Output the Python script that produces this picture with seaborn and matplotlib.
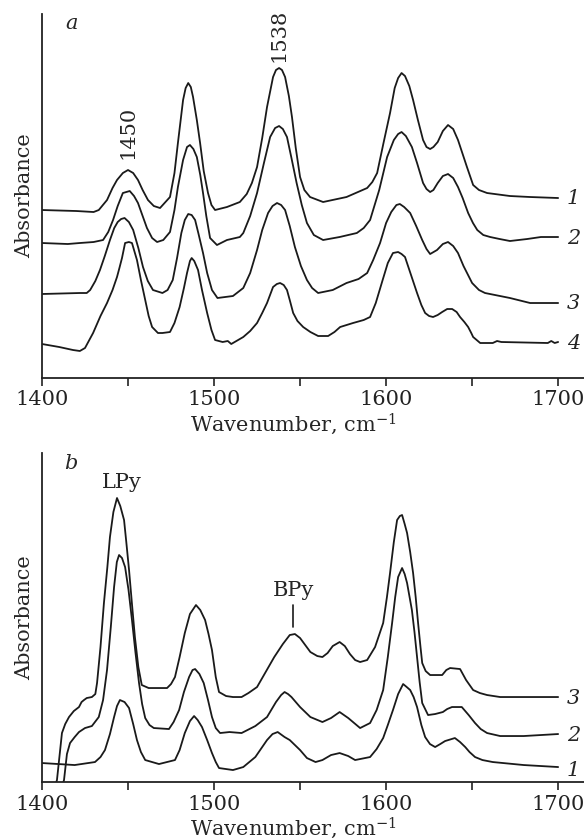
import matplotlib
matplotlib.use("Agg")
import matplotlib.pyplot as plt
from matplotlib.ticker import MultipleLocator
import numpy as np
import pandas as pd
import seaborn as sns

# ---- Panel a: spectra 1-4 (wavenumber, cm-1 / absorbance, a.u., stacked) ----
a1_w = [1400, 1420, 1430, 1433, 1437.8, 1441, 1443.6, 1447, 1450, 1453, 1455.8, 1458.5, 1461.6, 1465,
        1468.6, 1474.4, 1477, 1479, 1482, 1483.5, 1485, 1486.5, 1487.8, 1490, 1491.9, 1494, 1496.5,
        1498.5, 1500.6, 1507.5, 1515, 1519, 1522, 1525, 1528, 1530.8, 1534.3, 1536, 1537.8, 1539.5,
        1541.3, 1543.5, 1545.3, 1547.5, 1550, 1552.5, 1555.8, 1563.4, 1577, 1589, 1592, 1594.8, 1598.5,
        1602.3, 1605, 1607, 1609, 1611, 1613.5, 1615.7, 1618.5, 1621.5, 1623.5, 1625.6, 1627.5, 1630,
        1633, 1636, 1639, 1641.8, 1644.5, 1647, 1650.6, 1654, 1658.7, 1672, 1683.7, 1700]
a1_A = [1.68, 1.67, 1.66, 1.68, 1.78, 1.90, 1.98, 2.05, 2.08, 2.05, 1.98, 1.88, 1.78, 1.72,
        1.70, 1.81, 2.05, 2.35, 2.78, 2.90, 2.95, 2.91, 2.81, 2.58, 2.35, 2.07, 1.85,
        1.73, 1.68, 1.71, 1.76, 1.84, 1.95, 2.11, 2.40, 2.71, 3.01, 3.08, 3.10, 3.08,
        3.01, 2.82, 2.61, 2.30, 2.01, 1.88, 1.81, 1.76, 1.81, 1.90, 1.96, 2.05, 2.35,
        2.65, 2.90, 3.00, 3.05, 3.02, 2.92, 2.78, 2.58, 2.38, 2.31, 2.29, 2.31, 2.36,
        2.47, 2.53, 2.49, 2.38, 2.24, 2.11, 1.93, 1.88, 1.85, 1.82, 1.81, 1.80]

a2_w = [1400, 1415, 1422, 1430, 1435.5, 1438.5, 1441.3, 1444, 1447, 1451, 1453.5, 1455.8, 1458.5, 1461,
        1464, 1466.9, 1470.5, 1474.4, 1477, 1479, 1482, 1484.3, 1486, 1488, 1490, 1492, 1493.6, 1495.5,
        1497.7, 1501.7, 1507.5, 1515, 1517, 1521, 1525, 1529, 1532.6, 1535.5, 1537.8, 1540, 1542.4,
        1545, 1548, 1551, 1554, 1558, 1563.4, 1573, 1583, 1587, 1590.7, 1596, 1600.6, 1604.5, 1607,
        1609, 1611.5, 1615, 1618, 1621.5, 1623.5, 1625.6, 1627.5, 1630, 1633, 1636, 1639, 1641.8,
        1644.5, 1647.7, 1650.5, 1653, 1656.5, 1660.5, 1666, 1672, 1682, 1690, 1700]
a2_A = [1.35, 1.34, 1.35, 1.36, 1.38, 1.46, 1.58, 1.72, 1.85, 1.87, 1.82, 1.75, 1.62, 1.50,
        1.40, 1.36, 1.38, 1.46, 1.68, 1.91, 2.18, 2.31, 2.33, 2.29, 2.21, 2.03, 1.85, 1.62,
        1.40, 1.33, 1.38, 1.41, 1.45, 1.62, 1.85, 2.15, 2.41, 2.50, 2.52, 2.49, 2.41,
        2.20, 1.95, 1.73, 1.55, 1.43, 1.38, 1.41, 1.45, 1.50, 1.58, 1.88, 2.21, 2.38, 2.44,
        2.46, 2.42, 2.31, 2.15, 1.95, 1.89, 1.86, 1.88, 1.95, 2.02, 2.04, 2.00, 1.91,
        1.80, 1.65, 1.55, 1.48, 1.43, 1.41, 1.39, 1.37, 1.39, 1.41, 1.41]

a3_w = [1400, 1422, 1426, 1428, 1431, 1433.7, 1436.5, 1439.5, 1442, 1444, 1446, 1448, 1450.5, 1453,
        1456, 1458.7, 1461.5, 1464.5, 1470, 1473, 1476, 1478.5, 1481, 1483, 1485, 1487, 1489, 1491,
        1493.6, 1496, 1498.8, 1502, 1511, 1517, 1521, 1525, 1528, 1531.4, 1534, 1536.6, 1539, 1541.3,
        1544, 1547, 1550.5, 1554, 1557, 1560.5, 1569, 1577, 1584, 1589, 1592.5, 1596.5, 1600, 1603,
        1606, 1608, 1610.5, 1614, 1617.5, 1621, 1623.5, 1625.6, 1629.6, 1633, 1636, 1639, 1641.8,
        1645, 1650, 1654, 1657.5, 1672, 1683.7, 1700]
a3_A = [0.84, 0.85, 0.85, 0.88, 0.97, 1.08, 1.22, 1.38, 1.50, 1.56, 1.59, 1.60, 1.56, 1.48,
        1.30, 1.11, 0.97, 0.88, 0.85, 0.88, 0.98, 1.20, 1.45, 1.58, 1.64, 1.63, 1.58, 1.44,
        1.25, 1.05, 0.88, 0.80, 0.82, 0.90, 1.05, 1.28, 1.48, 1.65, 1.72, 1.75, 1.73, 1.68,
        1.52, 1.31, 1.12, 0.98, 0.90, 0.85, 0.88, 0.95, 0.99, 1.05, 1.18, 1.35, 1.55, 1.66,
        1.73, 1.74, 1.71, 1.65, 1.52, 1.38, 1.29, 1.24, 1.28, 1.34, 1.36, 1.32, 1.25,
        1.12, 0.95, 0.88, 0.85, 0.80, 0.75, 0.75]

a4_w = [1400, 1410, 1418, 1422, 1425, 1429.7, 1434, 1437.8, 1441, 1443.6, 1445, 1446.5, 1448.3, 1450.5,
        1452.3, 1455.2, 1457.5, 1460, 1462, 1464, 1467.4, 1470, 1474.4, 1477, 1480, 1482.5, 1484.3,
        1486, 1487, 1488.5, 1490.7, 1493, 1496, 1498.5, 1500.6, 1505, 1508, 1510, 1512, 1517, 1521,
        1525, 1528, 1530.8, 1534.3, 1536.5, 1538.4, 1540.5, 1542.4, 1544, 1546, 1548.5, 1551.8, 1556,
        1560.5, 1566.3, 1570, 1573.3, 1580.8, 1587, 1590.7, 1594, 1598, 1601, 1604, 1607, 1609, 1611,
        1614.5, 1618, 1620.5, 1622.7, 1625, 1627.3, 1630, 1632.6, 1635.5, 1638.4, 1641, 1643, 1645.5,
        1647.7, 1649.5, 1650.6, 1654.7, 1662, 1664.5, 1667, 1694, 1696, 1698, 1700]
a4_A = [0.34, 0.31, 0.28, 0.27, 0.30, 0.45, 0.62, 0.75, 0.88, 1.01, 1.10, 1.20, 1.35, 1.36,
        1.35, 1.18, 0.98, 0.78, 0.62, 0.51, 0.45, 0.45, 0.46, 0.55, 0.71, 0.90, 1.05,
        1.17, 1.20, 1.17, 1.08, 0.88, 0.65, 0.48, 0.38, 0.36, 0.37, 0.34, 0.36, 0.41, 0.47,
        0.55, 0.65, 0.75, 0.91, 0.94, 0.95, 0.93, 0.88, 0.78, 0.65, 0.57, 0.51, 0.46,
        0.42, 0.42, 0.46, 0.51, 0.55, 0.58, 0.61, 0.75, 0.98, 1.15, 1.25, 1.26, 1.24, 1.21,
        1.03, 0.85, 0.73, 0.65, 0.62, 0.61, 0.63, 0.66, 0.69, 0.69, 0.66, 0.61, 0.56,
        0.51, 0.45, 0.41, 0.35, 0.35, 0.37, 0.36, 0.35, 0.37, 0.35, 0.36]

# ---- Panel b: spectra 1-3 ----
b3_w = [1406.5, 1408.7, 1411.6, 1413.5, 1415.7, 1418.5, 1421.5, 1423, 1424.4, 1426, 1429, 1431, 1432,
        1434, 1436, 1438, 1439.5, 1441.5, 1443.6, 1445.5, 1447.7, 1449, 1450.6, 1452.3, 1454, 1456,
        1458, 1462, 1472.7, 1475, 1477.3, 1480, 1483, 1486, 1489.5, 1492, 1494.8, 1496.8, 1498.8, 1501,
        1502.9, 1507, 1511, 1516, 1520, 1525, 1530, 1535, 1540, 1544, 1547, 1550, 1553, 1556, 1560,
        1563, 1566, 1569, 1573, 1576, 1579, 1582, 1584.9, 1589, 1593.6, 1598.3, 1600.5, 1602.3, 1604.5,
        1606.4, 1608, 1609.3, 1610.8, 1612.2, 1614, 1615.7, 1617.2, 1618.6, 1620, 1621, 1623, 1625.6,
        1632.6, 1635, 1637.2, 1643, 1646.5, 1650.6, 1654.5, 1658.7, 1666.3, 1700]
b3_A = [-0.10, 0.02, 0.49, 0.58, 0.65, 0.71, 0.75, 0.80, 0.82, 0.84, 0.85, 0.88, 0.99,
        1.35, 1.79, 2.15, 2.45, 2.70, 2.84, 2.76, 2.62, 2.40, 2.12, 1.78, 1.45, 1.15,
        0.97, 0.94, 0.94, 0.98, 1.05, 1.25, 1.49, 1.68, 1.77, 1.72, 1.62, 1.48, 1.32, 1.05,
        0.90, 0.86, 0.85, 0.85, 0.89, 0.95, 1.10, 1.25, 1.38, 1.47, 1.48, 1.44, 1.37, 1.30, 1.26,
        1.25, 1.29, 1.36, 1.40, 1.36, 1.28, 1.22, 1.20, 1.22, 1.35, 1.59, 1.85, 2.09, 2.40,
        2.62, 2.66, 2.67, 2.58, 2.49, 2.30, 2.09, 1.85, 1.59, 1.35, 1.19, 1.11, 1.07,
        1.07, 1.12, 1.14, 1.13, 1.02, 0.92, 0.89, 0.87, 0.85, 0.85]

b2_w = [1411.5, 1412.8, 1414.5, 1416.3, 1419, 1421.5, 1425, 1429, 1433, 1435.5, 1437.8, 1440, 1441.9,
        1443.5, 1444.8, 1446.5, 1448.3, 1450.3, 1452.3, 1454.3, 1456.4, 1458.2, 1460, 1462.5, 1465,
        1473.8, 1476.5, 1479.7, 1482.5, 1485.5, 1487.5, 1489, 1491.5, 1494, 1496.5, 1498.8, 1501,
        1503.5, 1509, 1516, 1524, 1530.8, 1536, 1539, 1541, 1543, 1545, 1550, 1556, 1563, 1568, 1573,
        1578, 1584.9, 1590.7, 1594.5, 1598.3, 1601, 1603.5, 1605.3, 1607, 1609.3, 1610.8, 1612.2, 1615,
        1616.5, 1618, 1619.5, 1621, 1624.4, 1628.5, 1633, 1635.5, 1638.3, 1644, 1648, 1651.7, 1655,
        1658.7, 1666.3, 1680, 1700]
b2_A = [-0.05, 0.02, 0.28, 0.39, 0.45, 0.50, 0.54, 0.56, 0.65, 0.82, 1.12, 1.55, 1.95,
        2.20, 2.27, 2.24, 2.15, 1.92, 1.62, 1.30, 0.99, 0.78, 0.64, 0.57, 0.54,
        0.53, 0.60, 0.72, 0.90, 1.05, 1.12, 1.13, 1.08, 0.99, 0.82, 0.65, 0.54,
        0.49, 0.50, 0.49, 0.56, 0.65, 0.80, 0.87, 0.90, 0.88, 0.85, 0.75, 0.65, 0.60, 0.64, 0.70,
        0.64, 0.54, 0.59, 0.72, 0.92, 1.25, 1.59, 1.85, 2.05, 2.14, 2.08, 1.99, 1.72,
        1.50, 1.25, 1.00, 0.79, 0.67, 0.68, 0.70, 0.73, 0.75, 0.75, 0.67, 0.59, 0.53,
        0.49, 0.46, 0.46, 0.48]

b1_w = [1400, 1419, 1430.8, 1434, 1436.6, 1439.5, 1441.9, 1443.6, 1445.3, 1448, 1450.6, 1453, 1455.2,
        1457.5, 1460, 1468, 1477.3, 1480, 1483, 1486, 1488.4, 1490.5, 1493, 1496, 1498.8, 1501, 1502.9,
        1511, 1517, 1524, 1530.8, 1534, 1537, 1541, 1544, 1550, 1554, 1559, 1563, 1568, 1573, 1578,
        1582, 1590.7, 1594.5, 1598.3, 1601, 1604, 1607, 1609.9, 1612, 1614, 1616, 1618, 1620.5, 1622.7,
        1625.5, 1628.5, 1631.5, 1634.3, 1640, 1643, 1646, 1648.5, 1651.7, 1656, 1662, 1680, 1700]
b1_A = [0.19, 0.17, 0.20, 0.25, 0.32, 0.48, 0.65, 0.76, 0.82, 0.80, 0.74, 0.58, 0.42,
        0.30, 0.22, 0.18, 0.22, 0.32, 0.49, 0.61, 0.66, 0.62, 0.55, 0.42, 0.29, 0.20, 0.14,
        0.12, 0.15, 0.25, 0.42, 0.48, 0.50, 0.45, 0.42, 0.32, 0.24, 0.20, 0.22, 0.27, 0.29, 0.26,
        0.22, 0.25, 0.33, 0.44, 0.57, 0.72, 0.88, 0.98, 0.95, 0.92, 0.85, 0.75, 0.57, 0.45,
        0.38, 0.35, 0.38, 0.41, 0.44, 0.40, 0.35, 0.30, 0.25, 0.22, 0.20, 0.17, 0.15]

curve_names_a = ["1", "2", "3", "4"]
curve_names_b = ["1", "2", "3"]
label_level_a = [1.80, 1.40, 0.75, 0.35]
label_level_b = [0.12, 0.47, 0.84]

sns.set_style("ticks")
plt.rcParams["font.family"] = ["DejaVu Serif"]
plt.rcParams["mathtext.fontset"] = "dejavuserif"
plt.rcParams["font.size"] = 15

fig = plt.figure(figsize=(5.84, 8.40), dpi=100)
ax_a = fig.add_axes([0.0719, 0.55, 0.928, 0.4333])
ax_b = fig.add_axes([0.0719, 0.069, 0.928, 0.3917])

INK = "#1a1a1a"


def frame(ws, As, names):
    parts = []
    for w, A, n in zip(ws, As, names):
        parts.append(pd.DataFrame({"w": w, "A": A, "curve": n}))
    return pd.concat(parts, ignore_index=True)


def style_axes(ax, ytop, label_y):
    ax.set_xlim(1400, 1715)
    ax.set_ylim(0, ytop)
    sns.despine(ax=ax, top=True, right=True)
    for s in ("left", "bottom"):
        ax.spines[s].set_linewidth(1.3)
        ax.spines[s].set_color("#222222")
    ax.set_yticks([])
    ax.xaxis.set_major_locator(MultipleLocator(100))
    ax.xaxis.set_minor_locator(MultipleLocator(50))
    ax.tick_params(axis="x", which="both", direction="out", length=6, width=1.2,
                   colors="#222222", labelsize=15, pad=3)
    ax.set_xlabel(r"Wavenumber, cm$^{-1}$", fontsize=15)
    ax.xaxis.set_label_coords(0.463, label_y)
    ax.set_ylabel("Absorbance", fontsize=15, labelpad=6)
    leg = ax.get_legend()
    if leg is not None:
        leg.remove()


df_a = frame([a1_w, a2_w, a3_w, a4_w], [a1_A, a2_A, a3_A, a4_A], curve_names_a)
sns.lineplot(data=df_a, x="w", y="A", units="curve", estimator=None, sort=False,
             color=INK, linewidth=1.3, ax=ax_a)
style_axes(ax_a, 3.64, -0.093)
for n, lv in zip(curve_names_a, label_level_a):
    ax_a.text(1705, lv, n, style="italic", fontsize=15, ha="left", va="center")
ax_a.text(1417, 3.55, "a", style="italic", fontsize=15, ha="center", va="center")
ax_a.text(1450, 2.46, "1450", rotation=90, fontsize=15, ha="center", va="center")
ax_a.text(1538, 3.43, "1538", rotation=90, fontsize=15, ha="center", va="center")

df_b = frame([b1_w, b2_w, b3_w], [b1_A, b2_A, b3_A], curve_names_b)
sns.lineplot(data=df_b, x="w", y="A", units="curve", estimator=None, sort=False,
             color=INK, linewidth=1.3, ax=ax_b)
style_axes(ax_b, 3.29, -0.103)
for n, lv in zip(curve_names_b, label_level_b):
    ax_b.text(1705, lv, n, style="italic", fontsize=15, ha="left", va="center")
ax_b.text(1417, 3.19, "b", style="italic", fontsize=15, ha="center", va="center")
ax_b.text(1446.5, 3.00, "LPy", fontsize=15, ha="center", va="center")
ax_b.text(1546, 1.92, "BPy", fontsize=15, ha="center", va="center")
ax_b.plot([1546, 1546], [1.55, 1.77], color=INK, linewidth=1.2)

fig.savefig("out.png", dpi=100)
